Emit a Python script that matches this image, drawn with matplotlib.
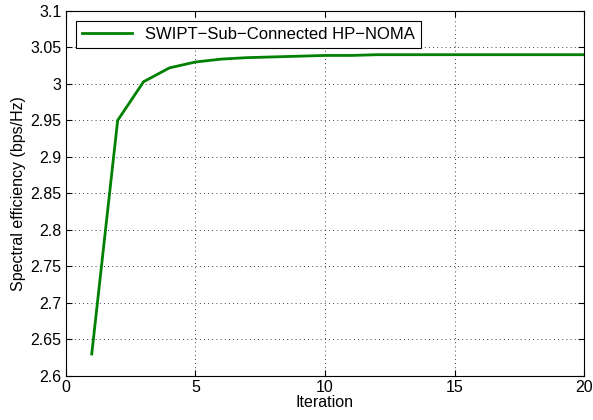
import matplotlib
matplotlib.use("Agg")
import matplotlib.pyplot as plt

# Spectral efficiency vs iteration
iterations = list(range(1, 21))
spectral_eff = [2.630, 2.950, 3.003, 3.022, 3.030, 3.034, 3.036, 3.037, 3.038, 3.039,
                3.039, 3.040, 3.040, 3.040, 3.040, 3.040, 3.040, 3.040, 3.040, 3.040]
x_ticks = [0, 5, 10, 15, 20]
y_ticks = [2.6, 2.65, 2.7, 2.75, 2.8, 2.85, 2.9, 2.95, 3.0, 3.05, 3.1]
y_labels = ["2.6", "2.65", "2.7", "2.75", "2.8", "2.85", "2.9", "2.95", "3", "3.05", "3.1"]

plt.rcParams["font.family"] = ["Liberation Sans", "DejaVu Sans"]

fig = plt.figure(figsize=(5.93, 4.2), dpi=100)
ax = fig.add_axes([0.111, 0.105, 0.874, 0.869])

ax.plot(iterations, spectral_eff, color="#008000", linewidth=2,
        label="SWIPT\u2212Sub\u2212Connected HP\u2212NOMA")

ax.set_xlim(0, 20)
ax.set_ylim(2.6, 3.1)
ax.set_xticks(x_ticks)
ax.set_yticks(y_ticks)
ax.set_yticklabels(y_labels)
ax.tick_params(direction="in", labelsize=11.5, length=4, top=True, right=True, pad=3)
ax.grid(True, linestyle=(0, (1, 4)), color="black", linewidth=0.6)
for s in ax.spines.values():
    s.set_linewidth(0.8)

ax.set_xlabel("Iteration", fontsize=11.5, labelpad=0)
ax.set_ylabel("Spectral efficiency (bps/Hz)", fontsize=11.5, labelpad=3)

leg = ax.legend(loc="upper left", fontsize=12, fancybox=False, framealpha=1,
                edgecolor="black", borderaxespad=0.6, handlelength=3,
                borderpad=0.35)
leg.get_frame().set_linewidth(0.8)

fig.savefig("out.png", dpi=100)
